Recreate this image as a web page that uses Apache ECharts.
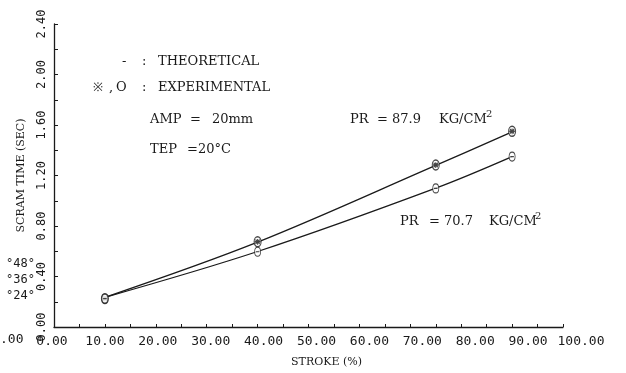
<!DOCTYPE html>
<html>
<head>
<meta charset="utf-8">
<script src="https://cdn.jsdelivr.net/npm/echarts@6/dist/echarts.min.js"></script>
<style>
  html, body { margin: 0; padding: 0; background: #fff; }
  #chart { width: 626px; height: 373px; }
</style>
</head>
<body>
<div id="chart"></div>
<script>
// Stroke positions (%) where scram time was evaluated
const strokes = [10, 40, 75, 90];

// Theoretical scram time curves (sec)
const theoryPR879 = [0.235, 0.672, 1.280, 1.545];
const theoryPR707 = [0.235, 0.598, 1.100, 1.350];

// Experimental points (sec)
const expPR879 = [0.225, 0.675, 1.283, 1.550];
const expPR707 = [0.225, 0.596, 1.098, 1.350];

const INK = '#1a1a1a';
const monoFont = '"DejaVu Sans Mono", monospace';
const serifFont = '"DejaVu Serif", serif';

const pairs = (xs, ys) => xs.map((x, i) => [x, ys[i]]);

// Oval marker with a scribbled star inside, and a plain oval
const starOval = 'path://M5,0 C8,0 10,3 10,7 C10,11 8,14 5,14 C2,14 0,11 0,7 C0,3 2,0 5,0 Z M2,4 L8,10 M8,4 L2,10 M5,3 L5,11 M1,7 L9,7';
const plainOval = 'path://M5,0 C8,0 10,3 10,7 C10,11 8,14 5,14 C2,14 0,11 0,7 C0,3 2,0 5,0 Z M2,7 L8,7';

// Typed notes: [text, x, y(middle), size]
const notes = [
  ['-', 122, 62, 13], [':', 142, 62, 13], ['THEORETICAL', 158, 62, 13],
  ['※', 93, 88, 12], [',', 109, 88, 13], ['O', 116, 88, 13], [':', 142, 88, 13], ['EXPERIMENTAL', 158, 88, 13],
  ['AMP', 150, 120, 13], ['=', 190, 120, 13], ['20mm', 212, 120, 13],
  ['TEP', 150, 150, 13], ['=20°C', 187, 150, 13],
  ['PR', 350, 120, 13], ['=', 377, 120, 13], ['87.9', 392, 120, 13], ['KG/CM', 439, 120, 13], ['2', 486, 114, 10],
  ['PR', 400, 222, 13], ['=', 429, 222, 13], ['70.7', 444, 222, 13], ['KG/CM', 489, 222, 13], ['2', 535, 216, 10]
];

// Stray marks left at the page edge
const strays = [['°48°', 6, 264], ['°36°', 6, 280], ['°24°', 6, 296]];

const chart = echarts.init(document.getElementById('chart'), null, { renderer: 'canvas' });

const graphic = notes.map(([t, x, y, s]) => ({
  type: 'text', x, y,
  style: { text: t, font: s + 'px ' + serifFont, fill: INK, verticalAlign: 'middle' }
})).concat(strays.map(([t, x, y]) => ({
  type: 'text', x, y,
  style: { text: t, font: '12px ' + monoFont, fill: INK, verticalAlign: 'middle' }
}))).concat([{
  type: 'text', x: 0, y: 340,
  style: { text: '.00', font: '13px ' + monoFont, fill: INK, verticalAlign: 'middle' }
}]);

chart.setOption({
  backgroundColor: '#fff',
  animation: false,
  grid: [
    { left: 54, top: 24, width: 509, height: 303 },
    { left: 52, top: 24, width: 529, height: 303 }
  ],
  xAxis: [
    {
      type: 'value', gridIndex: 0, min: 0, max: 100, interval: 5,
      axisLine: { show: true, lineStyle: { color: INK, width: 1.3 } },
      axisTick: { show: true, inside: true, length: 3, lineStyle: { color: INK } },
      axisLabel: { show: false },
      splitLine: { show: false }
    },
    {
      type: 'value', gridIndex: 1, min: 0, max: 100, interval: 10,
      axisLine: { show: false }, axisTick: { show: false }, splitLine: { show: false },
      axisLabel: {
        show: true, margin: 8, color: INK, fontFamily: monoFont, fontSize: 13,
        formatter: v => v.toFixed(2)
      },
      name: 'STROKE (%)', nameLocation: 'middle', nameGap: 30,
      nameTextStyle: { color: INK, fontFamily: serifFont, fontSize: 11, padding: [0, 0, 0, 20] }
    }
  ],
  yAxis: [
    {
      type: 'value', gridIndex: 0, min: 0, max: 2.4, interval: 0.4,
      axisLine: { show: true, lineStyle: { color: INK, width: 1.3 } },
      axisTick: { show: true, inside: true, length: 4, lineStyle: { color: INK } },
      minorTick: { show: true, splitNumber: 2, length: 4, lineStyle: { color: INK } },
      splitLine: { show: false },
      axisLabel: {
        show: true, rotate: 90, margin: 6, color: INK, fontFamily: monoFont, fontSize: 12,
        formatter: v => v.toFixed(2)
      },
      name: 'SCRAM TIME (SEC)', nameLocation: 'middle', nameGap: 27, nameRotate: 90,
      nameTextStyle: { color: INK, fontFamily: serifFont, fontSize: 11 }
    },
    { type: 'value', gridIndex: 1, min: 0, max: 2.4, show: false }
  ],
  series: [
    {
      name: 'PR 87.9 theory', type: 'line', xAxisIndex: 0, yAxisIndex: 0,
      data: pairs(strokes, theoryPR879), smooth: 0.35, showSymbol: false,
      lineStyle: { color: INK, width: 1.3 }
    },
    {
      name: 'PR 70.7 theory', type: 'line', xAxisIndex: 0, yAxisIndex: 0,
      data: pairs(strokes, theoryPR707), smooth: 0.35, showSymbol: false,
      lineStyle: { color: INK, width: 1.3 }
    },
    {
      name: 'PR 87.9 exp', type: 'scatter', xAxisIndex: 0, yAxisIndex: 0,
      data: pairs(strokes, expPR879), symbol: starOval, symbolSize: [7, 10],
      itemStyle: { color: '#fff', borderColor: INK, borderWidth: 1.2 }, z: 5
    },
    {
      name: 'PR 70.7 exp', type: 'scatter', xAxisIndex: 0, yAxisIndex: 0,
      data: pairs(strokes, expPR707), symbol: plainOval, symbolSize: [6, 9],
      itemStyle: { color: '#fff', borderColor: INK, borderWidth: 1.0 }, z: 5
    }
  ],
  graphic
});
</script>
</body>
</html>
